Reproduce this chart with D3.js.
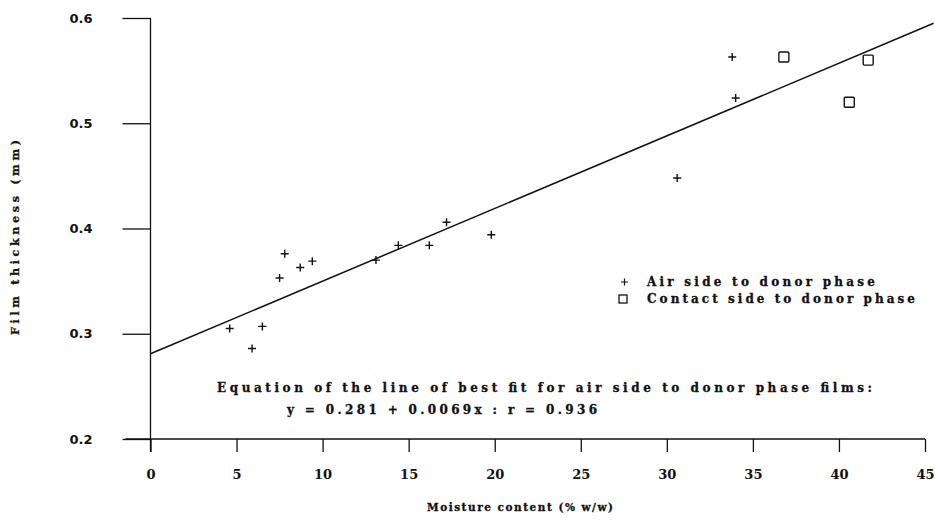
<!DOCTYPE html>
<html>
<head>
<meta charset="utf-8">
<script src="https://cdn.jsdelivr.net/npm/d3@7"></script>
<style>
  body { margin: 0; background: #fff; }
  text { font-family: "DejaVu Serif", serif; font-weight: bold; fill: #111; }
</style>
</head>
<body>
<div id="display"></div>
<script>
// data
let airX = [4.6, 5.9, 6.5, 7.5, 7.8, 8.7, 9.4, 13.1, 14.4, 16.2, 17.2, 19.8, 30.6, 33.8, 34.0];
let airY = [0.305, 0.286, 0.307, 0.353, 0.376, 0.363, 0.369, 0.370, 0.384, 0.384, 0.406, 0.394, 0.448, 0.563, 0.524];
let contactX = [36.8, 40.6, 41.7];
let contactY = [0.563, 0.520, 0.560];
let xTicks = [0, 5, 10, 15, 20, 25, 30, 35, 40, 45];
let yTicks = [0.2, 0.3, 0.4, 0.5, 0.6];
let fitA = 0.281, fitB = 0.0069;
let fitRange = [0, 45.5];

let width = 935, height = 520;

let svg = d3.select('#display')
    .append('svg')
        .attr('width', width)
        .attr('height', height);

// scales
let x = d3.scaleLinear().domain([0, 45]).range([150.5, 925]);
let y = d3.scaleLinear().domain([0.2, 0.6]).range([439, 18]);

// y axis
let yAxis = svg.append('g')
    .attr('transform', 'translate(' + x(0) + ',0)')
    .call(d3.axisLeft(y).tickValues(yTicks).tickSize(28).tickPadding(30)
        .tickFormat(d3.format('.1f')));
yAxis.select('.domain').remove();
yAxis.selectAll('text').style('font-family', '"DejaVu Sans", sans-serif')
    .style('font-size', '13px');

// x axis
let xAxis = svg.append('g')
    .attr('transform', 'translate(0,' + y(0.2) + ')')
    .call(d3.axisBottom(x).tickValues(xTicks).tickSize(13).tickPadding(18));
xAxis.select('.domain').remove();
xAxis.selectAll('text').style('font-size', '13px');

svg.selectAll('.tick line').attr('stroke', '#111').attr('stroke-width', 1.3);

// axis lines
svg.append('line')
    .attr('x1', x(0)).attr('x2', x(0))
    .attr('y1', y(0.6)).attr('y2', y(0.2) + 13)
    .attr('stroke', '#111').attr('stroke-width', 1.3);
svg.append('line')
    .attr('x1', x(0) - 25).attr('x2', x(45))
    .attr('y1', y(0.2)).attr('y2', y(0.2))
    .attr('stroke', '#111').attr('stroke-width', 1.3);

// line of best fit
svg.append('line')
    .attr('x1', x(fitRange[0])).attr('y1', y(fitA + fitB * fitRange[0]))
    .attr('x2', x(fitRange[1])).attr('y2', y(fitA + fitB * fitRange[1]))
    .attr('stroke', '#111').attr('stroke-width', 1.5);

// air side points (plus)
let air = airX.map((v, i) => ({x: v, y: airY[i]}));
svg.selectAll('path.air')
    .data(air)
    .enter()
    .append('path')
        .attr('class', 'air')
        .attr('d', d => 'M' + (x(d.x) - 4) + ',' + y(d.y) + 'h8M' + x(d.x) + ',' + (y(d.y) - 4) + 'v8')
        .attr('stroke', '#111').attr('stroke-width', 1.4);

// contact side points (square)
let contact = contactX.map((v, i) => ({x: v, y: contactY[i]}));
svg.selectAll('rect.contact')
    .data(contact)
    .enter()
    .append('rect')
        .attr('class', 'contact')
        .attr('x', d => x(d.x) - 5)
        .attr('y', d => y(d.y) - 5)
        .attr('width', 10).attr('height', 10)
        .attr('rx', 1)
        .attr('fill', 'none').attr('stroke', '#111').attr('stroke-width', 1.4);

// legend
svg.append('path')
    .attr('d', 'M621,282h7M624.5,278.5v7')
    .attr('stroke', '#111').attr('stroke-width', 1.2);
svg.append('rect')
    .attr('x', 619).attr('y', 295).attr('width', 8).attr('height', 8)
    .attr('fill', 'none').attr('stroke', '#111').attr('stroke-width', 1.3);

function label(txt, x0, y0, len, size) {
    return svg.append('text')
        .attr('x', x0).attr('y', y0)
        .attr('dy', '0.35em')
        .attr('textLength', len)
        .attr('lengthAdjust', 'spacing')
        .style('font-size', size + 'px')
        .style('stroke', '#111').style('stroke-width', 0.3)
        .text(txt);
}

label('Air side to donor phase', 647, 282, 228, 12);
label('Contact side to donor phase', 647, 299, 268, 12);
label('Equation of the line of best fit for air side to donor phase films:', 217, 388, 655, 12);
label('y = 0.281 + 0.0069x : r = 0.936', 287, 410, 310, 12);
label('Moisture content (% w/w)', 427, 507, 186, 10.5);

// y title
svg.append('text')
    .attr('transform', 'translate(15,335) rotate(-90)')
    .attr('dy', '0.35em')
    .attr('textLength', 195)
    .attr('lengthAdjust', 'spacing')
    .style('font-size', '11px')
    .style('stroke', '#111').style('stroke-width', 0.3)
    .text('Film thickness (mm)');
</script>
</body>
</html>
